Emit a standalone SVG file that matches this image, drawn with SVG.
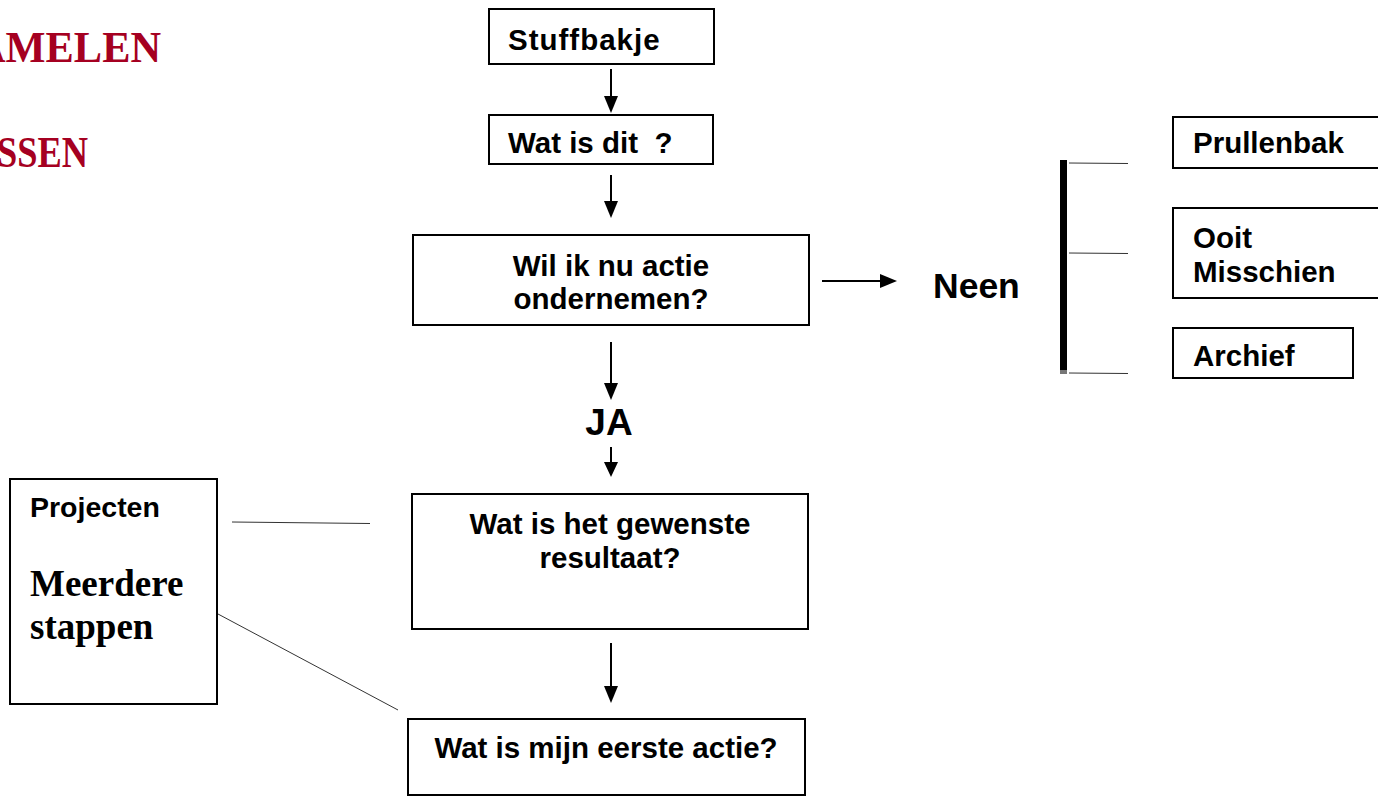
<svg xmlns="http://www.w3.org/2000/svg" width="1378" height="796" viewBox="0 0 1378 796">
<style>
.box{fill:#fff;stroke:#000;stroke-width:2}
.t{font-family:"Liberation Sans",Arial,sans-serif;font-weight:bold;font-size:29.5px;fill:#000}
.title{font-family:"Liberation Serif","Times New Roman",serif;font-weight:bold;font-size:44px;fill:#A50021}
.serif{font-family:"Liberation Serif","Times New Roman",serif;font-weight:bold;font-size:37px;fill:#000}
.ln{stroke:#000;stroke-width:2;fill:none}
.thin{stroke:#333;stroke-width:1;fill:none}
</style>
<rect width="1378" height="796" fill="#fff"/>
<g id="titles">
<text class="title" x="-25" y="62" textLength="186" lengthAdjust="spacingAndGlyphs">AMELEN</text>
<text class="title" x="-3" y="167" textLength="91" lengthAdjust="spacingAndGlyphs">SSEN</text>
</g>
<g id="connectors">
<path class="ln" d="M611,69 V96"/>
<path d="M604,96 L618,96 L611,113 Z"/>
<path class="ln" d="M611,175 V201"/>
<path d="M604,201 L618,201 L611,218 Z"/>
<path class="ln" d="M611,342 V383"/>
<path d="M604,383 L618,383 L611,400 Z"/>
<path class="ln" d="M611,447 V462"/>
<path d="M604,462 L618,462 L611,477 Z"/>
<path class="ln" d="M611,643 V686"/>
<path d="M604,686 L618,686 L611,703 Z"/>
<path class="ln" d="M822,281 H880"/>
<path d="M880,274 L897,281 L880,288 Z"/>
<rect x="1060" y="160" width="7" height="210" fill="#000"/>
<rect x="1060" y="370" width="7" height="4" fill="#777"/>
<line class="thin" x1="1069" y1="163" x2="1128" y2="163.5"/>
<line class="thin" x1="1069" y1="253" x2="1128" y2="253.5"/>
<line class="thin" x1="1069" y1="373" x2="1128" y2="373.5"/>
<line class="thin" x1="232" y1="522" x2="370" y2="523.5"/>
<line class="thin" x1="218" y1="614" x2="398" y2="710"/>
</g>
<g id="stuffbakje">
<rect class="box" x="489" y="9" width="225" height="55"/>
<text class="t" x="508" y="50" letter-spacing="1">Stuffbakje</text>
</g>
<g id="watisdit">
<rect class="box" x="489" y="115" width="224" height="49"/>
<text class="t" x="508" y="153" xml:space="preserve">Wat is dit  ?</text>
</g>
<g id="wilik">
<rect class="box" x="413" y="235" width="396" height="90"/>
<text class="t" x="611" y="276" text-anchor="middle">Wil ik nu actie</text>
<text class="t" x="611" y="309" text-anchor="middle">ondernemen?</text>
</g>
<g id="neen">
<text class="t" x="933" y="298" style="font-size:35.5px">Neen</text>
</g>
<g id="ja">
<text class="t" x="609" y="435" text-anchor="middle" style="font-size:37px">JA</text>
</g>
<g id="prullenbak">
<rect class="box" x="1173" y="117" width="220" height="51"/>
<text class="t" x="1193" y="153">Prullenbak</text>
</g>
<g id="ooit">
<rect class="box" x="1173" y="208" width="220" height="90"/>
<text class="t" x="1193" y="248">Ooit</text>
<text class="t" x="1193" y="282">Misschien</text>
</g>
<g id="archief">
<rect class="box" x="1173" y="328" width="180" height="50"/>
<text class="t" x="1193" y="366">Archief</text>
</g>
<g id="resultaat">
<rect class="box" x="412" y="494" width="396" height="135"/>
<text class="t" x="610" y="534" text-anchor="middle">Wat is het gewenste</text>
<text class="t" x="610" y="568" text-anchor="middle">resultaat?</text>
</g>
<g id="eersteactie">
<rect class="box" x="408" y="719" width="397" height="76"/>
<text class="t" x="606" y="758" text-anchor="middle">Wat is mijn eerste actie?</text>
</g>
<g id="projecten">
<rect class="box" x="10" y="479" width="207" height="225"/>
<text class="t" x="30" y="517" style="font-size:28.5px">Projecten</text>
<text class="serif" x="30" y="596">Meerdere</text>
<text class="serif" x="30" y="639">stappen</text>
</g>
</svg>
